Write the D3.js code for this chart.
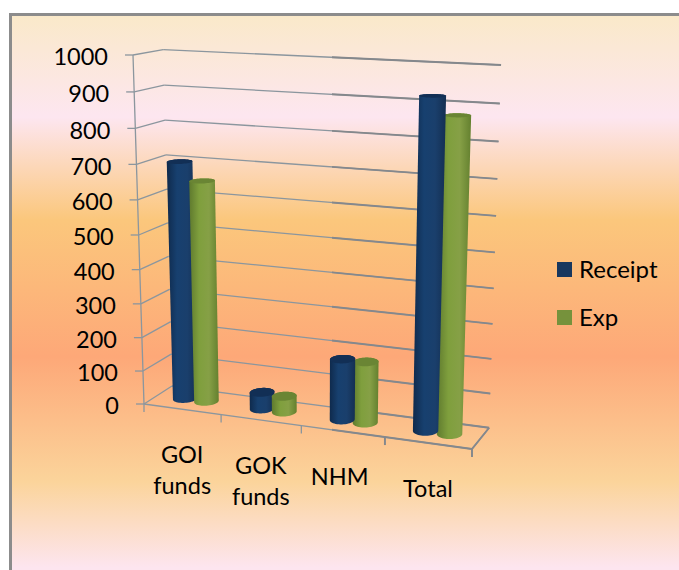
<!DOCTYPE html>
<html>
<head>
<meta charset="utf-8">
<script src="https://cdn.jsdelivr.net/npm/d3@7"></script>
<style>
html,body{margin:0;padding:0;background:#fff}
svg{display:block}
text{font-family:Lato,"Open Sans",sans-serif;fill:#000}
</style>
</head>
<body>
<script>
const categories = [['GOI','funds'],['GOK','funds'],['NHM'],['Total']]
const catKeys = ['GOI funds','GOK funds','NHM','Total']
const seriesNames = ['Receipt','Exp']
const receipt = [700,50,178,922]
const exp = [650,47,178,875]
const seriesValues = [receipt,exp]

const width = 679
const height = 570

// 3d box -> screen, fitted on the corners of the plot box
const g0 = -0.078, h0 = -0.061, i0 = 0.0385
const origin = [144,404], uEnd = [472,449], vEnd = [133,55], dEnd = [172,386]
function project(u,v,d){
  const w = 1 + g0*u + h0*v + i0*d
  const p = k => (origin[k]
    + (uEnd[k]*(1+g0)-origin[k])*u
    + (vEnd[k]*(1+h0)-origin[k])*v
    + (dEnd[k]*(1+i0)-origin[k])*d)/w
  return [p(0),p(1)]
}

const y = d3.scaleLinear().domain([0,1000]).range([0,1])
const x0 = d3.scaleBand().domain(catKeys).range([0,1]).paddingInner(0.44).paddingOuter(0.22)
const x1 = d3.scaleBand().domain(seriesNames).range([0,x0.bandwidth()])
const color = d3.scaleOrdinal().domain(seriesNames).range(['#17375e','#76923c'])

const svg = d3.select('body').append('svg')
  .attr('width',width)
  .attr('height',height)

const defs = svg.append('defs')
const bgStops = [[0,'#fae9c9'],[0.18,'#fde6f0'],[0.36,'#fbc77c'],[0.6,'#fda878'],[0.82,'#fbd49b'],[0.97,'#fde5ef']]
defs.append('linearGradient')
    .attr('id','bg')
    .attr('x1',0).attr('x2',0).attr('y1',0).attr('y2',1)
  .selectAll('stop')
  .data(bgStops)
  .enter().append('stop')
    .attr('offset',d => d[0])
    .attr('stop-color',d => d[1])

const bodyStops = {
  Receipt:['#0f2a4c','#17406f','#1a3f6c','#142f52'],
  Exp:['#5f7a2e','#7f9f3d','#86a046','#64802f']
}
seriesNames.forEach(s => {
  defs.append('linearGradient')
      .attr('id','body'+s)
    .selectAll('stop')
    .data(bodyStops[s])
    .enter().append('stop')
      .attr('offset',(d,i) => i/3)
      .attr('stop-color',d => d)
})

defs.append('clipPath')
    .attr('id','rightPart')
  .append('rect')
    .attr('x',332)
    .attr('y',0)
    .attr('width',width)
    .attr('height',height)

svg.append('rect')
  .attr('x',10.5)
  .attr('y',14.5)
  .attr('width',width)
  .attr('height',height)
  .attr('fill','url(#bg)')
  .attr('stroke','#8c8c8c')
  .attr('stroke-width',3)

const line = d3.line()
// grid is kept in defs, the right part of the plot has heavier lines in the picture
const grid = defs.append('g')
  .attr('id','grid')
  .attr('fill','none')

svg.append('g')
    .attr('stroke','#8b969e')
    .attr('stroke-width',1.3)
  .append('use')
    .attr('href','#grid')
svg.append('g')
    .attr('stroke','#85888c')
    .attr('stroke-width',1.9)
    .attr('clip-path','url(#rightPart)')
  .append('use')
    .attr('href','#grid')

function seg(a,b){
  grid.append('path').attr('d',line([project(...a),project(...b)]))
}

y.ticks(10).forEach(t => {
  const v = y(t)
  seg([0,v,0],[0,v,1])
  seg([0,v,1],[1,v,1])
  const p = project(0,v,0)
  grid.append('path').attr('d',line([[p[0]-8,p[1]],p]))
  svg.append('text')
    .attr('x',p[0]-25)
    .attr('y',p[1]+2)
    .attr('dy','0.35em')
    .attr('text-anchor','end')
    .attr('font-size',23.5)
    .text(t)
})

seg([0,0,0],[0,1,0])
seg([0,0,0],[1,0,0])
seg([1,0,0],[1,0,1])

d3.range(5).forEach(i => {
  const p = project(i/4,0,0)
  grid.append('path').attr('d',line([p,[p[0],p[1]+8]]))
})

// bars, outermost first so the inner cylinder of a pair ends up on top
const bars = []
catKeys.forEach((c,ci) => {
  seriesNames.forEach((s,si) => {
    bars.push({c:c,ci:ci,s:s,value:seriesValues[si][ci],
      u:x0(c)+x1(s)+x1.bandwidth()/2})
  })
})
bars.sort((a,b) => Math.abs(b.u-0.5)-Math.abs(a.u-0.5))

const ru = x1.bandwidth()/2
const rd = 0.23
function ring(b,v){
  return d3.range(48).map(i => {
    const t = i/48*2*Math.PI
    return project(b.u+ru*Math.cos(t),v,0.5+rd*Math.sin(t))
  })
}

const barG = svg.append('g')
bars.forEach(b => {
  const top = ring(b,y(b.value))
  const bottom = ring(b,0)
  barG.append('path')
    .attr('d',line(d3.polygonHull(top.concat(bottom)))+'Z')
    .attr('fill','url(#body'+b.s+')')
  barG.append('path')
    .attr('d',line(top)+'Z')
    .attr('fill',b.s=='Receipt' ? '#122f55' : '#6a8534')
})

categories.forEach((lines,i) => {
  const p = project(x0(catKeys[i])+x0.bandwidth()/2,0,0)
  const t = svg.append('text')
    .attr('text-anchor','middle')
    .attr('font-size',23.5)
  lines.forEach((l,k) => {
    t.append('tspan')
      .attr('x',i==2 ? p[0]-3 : p[0])
      .attr('y',p[1]+54+k*31)
      .text(l)
  })
})

seriesNames.forEach((s,i) => {
  svg.append('rect')
    .attr('x',557)
    .attr('y',262+i*48)
    .attr('width',15)
    .attr('height',15)
    .attr('fill',color(s))
  svg.append('text')
    .attr('x',579)
    .attr('y',269.5+i*48)
    .attr('dy','0.35em')
    .attr('font-size',24)
    .text(s)
})
</script>
</body>
</html>
